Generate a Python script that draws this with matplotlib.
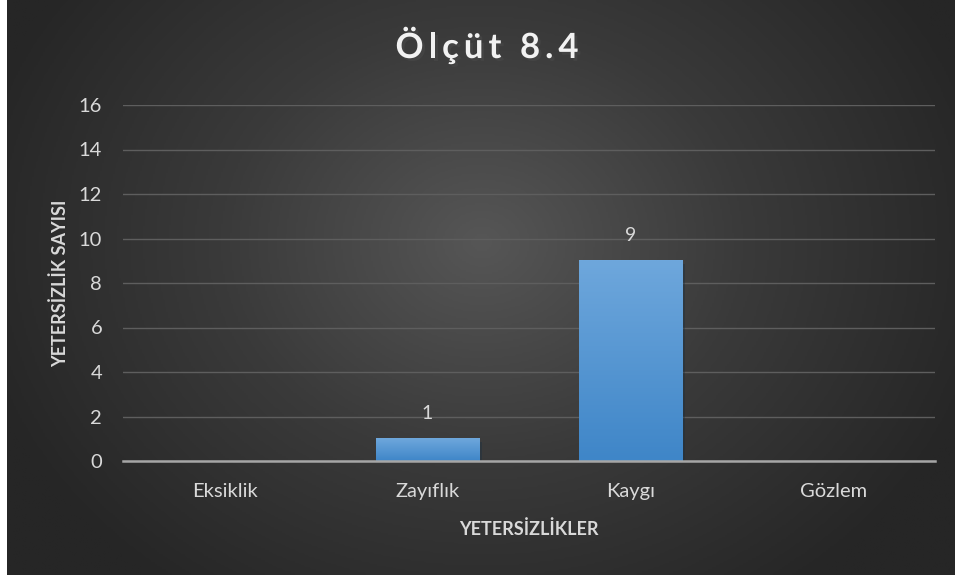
import numpy as np
import matplotlib
matplotlib.use('Agg')
import matplotlib.pyplot as plt
import matplotlib.patheffects as pe
from matplotlib.colors import LinearSegmentedColormap

categories = ['Eksiklik', 'Zayıflık', 'Kaygı', 'Gözlem']
counts = [0, 1, 9, 0]
yticks = [0, 2, 4, 6, 8, 10, 12, 14, 16]
title = 'Ölçüt 8.4'

plt.rcParams['font.family'] = ['Lato', 'DejaVu Sans']

fig = plt.figure(figsize=(9.59, 5.79), dpi=100)
fig.patch.set_facecolor('white')

# dark radial background of the chart box
bg = fig.add_axes([7 / 959, 4 / 579, 948 / 959, 575 / 579])
bg.set_axis_off()
h, w = 300, 500
yy, xx = np.mgrid[0:h, 0:w]
r = np.sqrt(((xx - w * 0.5) / (w * 0.55)) ** 2 + ((yy - h * 0.42) / (h * 0.75)) ** 2)
r = np.clip(r, 0, 1)
bg_cmap = LinearSegmentedColormap.from_list('bg', ['#565656', '#3a3a3a', '#262626'])
bg.imshow(r, cmap=bg_cmap, aspect='auto', extent=[0, 1, 0, 1], vmin=0, vmax=1)
bg.set_xlim(0, 1)
bg.set_ylim(0, 1)

ax = fig.add_axes([123 / 959, 1 - 461 / 579, 812 / 959, 356 / 579])
ax.patch.set_alpha(0)
x = np.arange(len(categories))
bars = ax.bar(x, counts, width=0.51, color='#5b9bd5', zorder=3,
              path_effects=[pe.SimplePatchShadow(offset=(2, -2), alpha=0.4), pe.Normal()])

# vertical gradient fill on bars
grad = np.linspace(0, 1, 100).reshape(-1, 1)
bar_cmap = LinearSegmentedColormap.from_list('bar', ['#3f86c8', '#6ea7dc'])
for b in bars:
    if b.get_height() > 0:
        ax.imshow(grad, cmap=bar_cmap, origin='lower', aspect='auto', zorder=4,
                  extent=[b.get_x(), b.get_x() + b.get_width(), 0, b.get_height()])
ax.set_xlim(-0.5, len(categories) - 0.5)
ax.set_ylim(0, 16)

for i, v in enumerate(counts):
    if v > 0:
        ax.text(x[i], v + 0.75, str(v), ha='center', va='bottom', fontsize=14,
                color='#d9d9d9', zorder=5)

ax.set_yticks(yticks)
ax.set_xticks(x)
ax.set_xticklabels(categories)
ax.grid(axis='y', color='#5e5e5e', linewidth=1.0, zorder=0)
ax.tick_params(axis='both', length=0, labelsize=14.5, labelcolor='#d9d9d9')
ax.tick_params(axis='x', pad=16)
ax.tick_params(axis='y', pad=15)
for s in ['top', 'right', 'left']:
    ax.spines[s].set_visible(False)
ax.spines['bottom'].set_color('#a6a6a6')
ax.spines['bottom'].set_linewidth(1.8)
ax.spines['bottom'].set_zorder(6)

ax.set_xlabel('YETERSİZLİKLER', fontsize=13, fontweight='bold', color='#d9d9d9', labelpad=14)
ax.set_ylabel('YETERSİZLİK SAYISI', fontsize=13, fontweight='bold', color='#d9d9d9', labelpad=7)

# title with letter spacing, one glyph at a time
renderer = fig.canvas.get_renderer()
shadow = [pe.withSimplePatchShadow(offset=(2, -2), alpha=0.6)]
spacing = 5
glyphs = []
for ch in title:
    t = fig.text(0, 1 - 48 / 579, ch, ha='left', va='center', fontsize=25,
                 fontweight='bold', color='#f2f2f2', path_effects=shadow)
    glyphs.append((t, t.get_window_extent(renderer).width))
total = sum(wd for _, wd in glyphs) + spacing * (len(glyphs) - 1)
xpos = 487 - total / 2
for t, wd in glyphs:
    t.set_x(xpos / 959)
    xpos += wd + spacing

fig.savefig('out.png', dpi=100, facecolor=fig.get_facecolor())
